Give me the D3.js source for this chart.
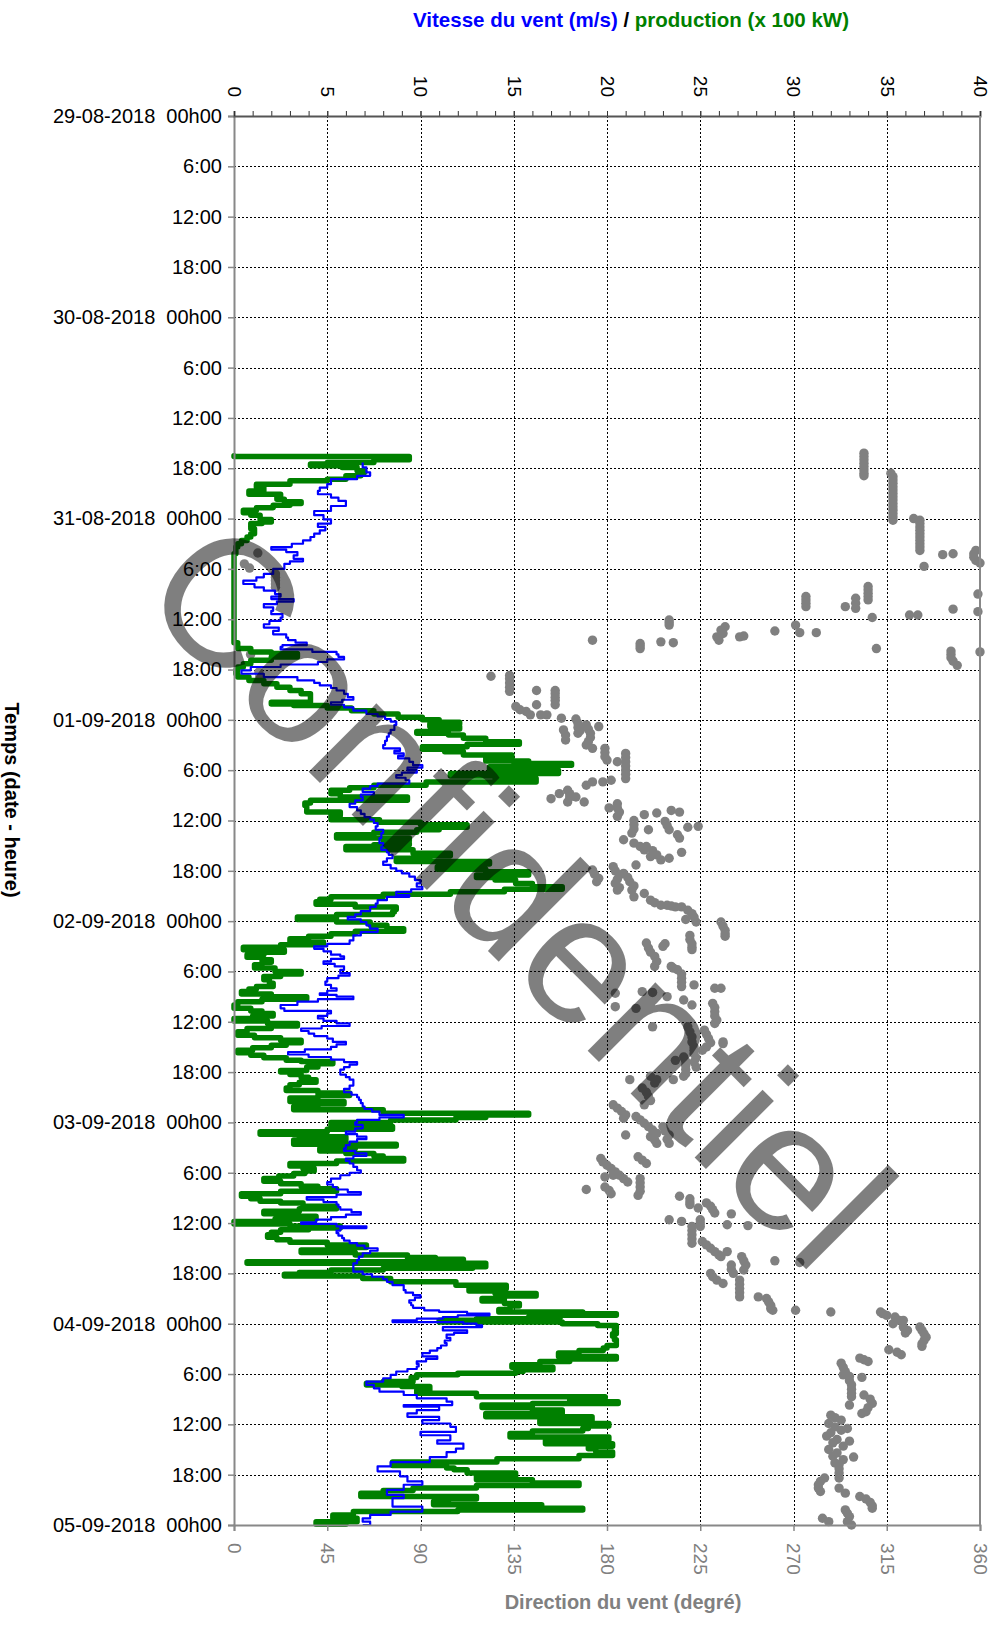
<!DOCTYPE html>
<html>
<head>
<meta charset="utf-8">
<script src="https://cdn.jsdelivr.net/npm/d3@7"></script>
<style>
  body { margin: 0; background: #fff; }
  text { font-family: "Liberation Sans", Arial, sans-serif; }
</style>
</head>
<body>
<div id="chart"></div>
<script>
// hours since 29-08-2018 00h00, value
const speed = [
  [41.3,6.9],[41.9,7.1],[42.5,7.3],[42.9,6.6],[43.3,5.2],[43.9,5.0],[44.3,4.6],[44.7,4.5],[45.1,5.2],[45.5,5.6],
  [45.9,6.0],[46.5,5.2],[47.1,4.3],[47.6,4.8],[48.1,5.2],[48.6,4.5],[49.0,4.9],[49.4,4.6],[49.8,4.3],[50.2,4.1],
  [50.6,3.7],[51.0,3.1],[51.4,2.0],[51.7,2.8],[52.0,3.4],[52.4,3.2],[52.8,3.7],[53.1,3.0],[53.4,2.7],[54.0,2.1],
  [54.6,1.6],[55.0,1.2],[55.4,0.5],[55.8,1.1],[56.2,1.6],[56.6,2.2],[57.0,2.5],[57.3,2.0],[57.6,3.2],[57.9,2.3],
  [58.2,1.6],[58.6,2.1],[59.0,2.0],[59.4,2.6],[59.8,2.5],[60.2,1.9],[60.6,1.6],[61.0,2.4],[61.4,2.1],[61.8,2.8],
  [62.2,2.9],[62.5,3.3],[62.8,3.9],[63.1,2.6],[63.3,2.5],[63.6,4.2],[63.9,5.5],[64.2,5.6],[64.5,5.9],[64.8,5.0],
  [65.1,4.5],[65.4,2.5],[65.7,0.9],[66.1,0.4],[66.5,1.6],[66.9,3.4],[67.3,4.3],[67.6,4.6],[67.9,5.2],[68.2,5.5],
  [68.5,5.9],[68.9,6.1],[69.3,6.4],[69.6,5.8],[69.9,5.2],[70.2,5.9],[70.5,6.4],[70.9,7.1],[71.3,7.7],[71.6,8.1],
  [71.9,8.4],[72.2,8.7],[72.6,8.6],[73.2,8.4],[73.6,8.3],[74.0,8.2],[74.5,8.1],[75.0,8.0],[75.4,8.9],[75.7,8.6],
  [76.0,9.1],[76.3,8.8],[76.6,9.4],[77.0,9.6],[77.4,10.1],[77.7,9.3],[78.0,9.8],[78.3,9.0],[78.6,8.7],[78.9,9.2],
  [79.2,9.4],[79.6,7.7],[79.9,7.3],[80.2,6.9],[80.6,7.5],[80.9,6.8],[81.2,6.9],[81.6,6.5],[82.0,6.2],[82.4,6.6],
  [82.8,6.8],[83.2,7.0],[83.6,7.3],[83.9,7.5],[84.3,7.7],[84.7,7.6],[85.1,8.0],[85.5,7.9],[86.1,7.8],[86.7,8.0],
  [87.1,7.9],[87.5,8.2],[87.8,8.3],[88.1,8.5],[88.5,8.2],[88.9,8.0],[89.3,8.4],[89.7,8.7],[90.0,9.0],[90.3,9.4],
  [90.7,9.7],[91.1,10.0],[91.5,9.8],[91.9,10.1],[92.2,9.5],[92.5,8.7],[92.9,9.4],[93.1,8.2],[93.5,7.7],[93.9,7.6],
  [94.3,7.3],[94.8,6.8],[95.2,6.5],[95.5,6.1],[95.8,6.8],[96.1,7.1],[96.5,7.3],[96.9,7.7],[97.3,6.8],[97.7,6.4],
  [98.0,6.4],[98.3,6.2],[98.7,5.0],[99.0,4.3],[99.3,4.8],[99.6,5.2],[100.0,5.7],[100.2,5.9],[100.5,5.2],[100.8,4.8],
  [101.1,5.4],[101.4,5.9],[101.8,5.7],[102.2,6.2],[102.5,5.6],[102.8,5.0],[103.2,4.9],[103.6,5.2],[104.0,5.5],[104.3,5.0],
  [104.6,4.6],[104.8,5.5],[105.0,6.4],[105.3,4.5],[105.6,3.4],[106.0,2.5],[106.4,2.7],[106.7,5.2],[107.0,5.0],[107.3,4.5],
  [107.6,4.8],[107.9,5.5],[108.2,6.2],[108.5,4.7],[108.8,3.6],[109.1,4.0],[109.4,4.3],[109.7,5.0],[110.0,5.3],[110.4,6.0],
  [110.7,5.5],[111.0,5.2],[111.3,3.8],[111.6,2.9],[111.9,4.0],[112.2,5.2],[112.5,5.9],[112.8,6.6],[113.1,6.2],[113.4,5.9],
  [113.7,5.7],[114.0,5.7],[114.3,6.0],[114.6,6.2],[114.9,6.4],[115.3,6.4],[115.6,6.2],[116.0,5.9],[116.4,6.3],[116.7,6.6],
  [117.0,6.7],[117.3,6.8],[117.7,6.9],[118.1,7.0],[118.4,7.4],[118.7,7.8],[119.1,9.1],[119.4,7.8],[119.7,6.6],[120.0,6.5],
  [120.3,6.9],[120.7,6.5],[121.1,6.0],[121.4,6.6],[121.7,7.1],[122.0,6.6],[122.3,6.2],[122.7,6.0],[123.1,5.9],[123.4,6.5],
  [123.7,7.1],[124.0,6.4],[124.3,6.0],[124.6,6.2],[124.9,6.4],[125.3,6.6],[125.7,6.8],[126.0,6.2],[126.3,5.7],[126.7,5.2],
  [127.1,5.0],[127.4,5.3],[127.7,5.5],[128.0,6.1],[128.3,6.8],[128.6,5.5],[128.9,3.9],[129.2,4.8],[129.5,5.5],[129.8,5.6],
  [130.1,5.7],[130.4,6.3],[130.7,6.8],[131.0,6.0],[131.3,5.2],[131.6,4.4],[131.9,3.6],[132.1,5.5],[132.4,7.1],[132.6,5.7],
  [132.9,5.5],[133.2,5.6],[133.5,5.8],[133.8,5.9],[134.1,6.2],[134.4,6.6],[134.7,7.0],[135.0,7.7],[135.3,7.3],[135.6,6.9],
  [136.0,6.7],[136.4,6.6],[136.8,6.4],[137.2,6.4],[137.8,6.9],[138.1,7.4],[138.4,8.0],[138.7,8.2],[139.0,8.5],[139.4,9.1],
  [139.7,9.1],[140.0,9.2],[140.3,9.6],[140.6,10.0],[140.9,9.7],[141.2,9.4],[141.5,9.5],[141.8,9.6],[142.1,10.2],[142.4,11.0],
  [142.6,12.5],[142.8,13.7],[143.0,12.0],[143.2,11.2],[143.4,9.8],[143.6,8.5],[143.8,12.3],[144.0,13.0],[144.2,13.3],[144.4,11.2],
  [144.8,12.5],[145.1,11.8],[145.3,11.4],[145.7,11.6],[146.0,11.3],[146.3,11.4],[146.6,11.1],[146.9,10.9],[147.2,10.5],[147.5,10.1],
  [147.9,10.9],[148.2,10.3],[148.5,9.8],[148.8,9.9],[149.1,9.8],[149.4,9.3],[149.7,8.7],[150.1,8.4],[150.5,8.0],[150.9,7.1],
  [151.3,7.5],[151.7,7.8],[152.1,9.1],[152.5,9.8],[152.9,11.4],[153.3,11.7],[153.7,9.1],[153.9,11.0],[154.3,9.8],[154.7,9.3],
  [155.1,11.0],[155.5,10.1],[155.9,11.6],[156.3,11.9],[156.9,10.0],[157.3,11.6],[157.9,10.9],[158.3,12.3],[158.9,11.9],[159.3,11.4],
  [159.9,10.5],[160.5,8.4],[161.0,7.7],[161.6,8.9],[162.2,9.3],[162.8,10.1],[163.2,9.1],[163.8,8.2],[164.4,9.1],[164.8,8.5],
  [165.4,8.5],[165.8,10.1],[166.4,8.4],[166.8,7.3],[167.2,6.9],[167.6,7.3],[168.0,6.9]
];

const production = [
  [40.5,0],[40.6,9.4],[40.9,9.4],[41.0,7.5],[41.3,5.0],[41.5,4.1],[41.7,5.8],[41.9,6.6],[42.3,7.0],[42.5,6.8],
  [42.9,6.0],[43.3,5.0],[43.5,3.0],[43.9,1.2],[44.3,1.6],[44.7,0.8],[45.1,2.5],[45.4,2.3],[45.7,2.7],[46.0,3.6],
  [46.2,3.0],[46.4,2.1],[46.7,1.2],[47.0,0.5],[47.3,0.9],[47.6,1.4],[48.1,2.0],[48.4,1.5],[48.6,0.9],[49.2,1.1],
  [49.8,0.9],[50.2,0.7],[50.6,0.4],[51.0,0.2],[51.4,0.1],[52.2,0],[62.5,0],[62.8,0.2],[63.5,0.9],[63.9,2.0],
  [64.1,3.4],[64.5,2.0],[64.9,0.9],[65.3,0.5],[65.7,0.2],[66.1,0.1],[66.5,0.2],[66.9,0.8],[67.3,1.6],[67.7,2.3],
  [68.1,3.0],[68.5,3.6],[68.9,4.1],[69.5,4.1],[69.9,2.0],[70.1,3.2],[70.3,5.0],[70.6,6.3],[70.9,7.5],[71.3,8.8],
  [71.7,10.1],[72.0,11.0],[72.3,12.1],[72.5,10.5],[72.8,12.1],[73.1,11.0],[73.4,9.8],[73.6,11.5],[73.8,12.3],[74.2,13.5],
  [74.6,15.3],[74.9,12.5],[75.2,10.1],[75.5,11.3],[75.8,12.3],[76.2,14.9],[76.6,13.5],[76.9,15.8],[77.2,18.1],[77.4,15.0],
  [77.6,13.7],[78.0,17.4],[78.4,11.6],[78.7,14.0],[79.0,16.2],[79.4,10.3],[79.8,7.5],[80.1,6.2],[80.4,5.2],[80.8,5.7],
  [81.2,9.3],[81.6,4.1],[81.9,3.8],[82.2,3.9],[82.6,3.9],[83.0,5.7],[83.4,5.2],[83.9,7.8],[84.2,10.0],[84.5,12.5],
  [84.8,11.0],[85.1,9.8],[85.4,7.5],[85.7,5.5],[86.1,9.4],[86.4,8.0],[86.7,9.4],[86.9,7.5],[87.1,6.0],[87.5,9.6],
  [87.9,11.6],[88.2,10.5],[88.5,8.7],[88.9,13.7],[89.2,12.0],[89.5,10.9],[89.8,13.5],[90.1,15.8],[90.5,13.0],[90.8,14.0],
  [91.1,15.1],[91.5,16.0],[91.9,17.6],[92.2,14.5],[92.5,11.6],[92.8,8.0],[93.1,5.2],[93.4,4.6],[93.7,4.4],[94.0,6.5],
  [94.3,8.7],[94.6,8.6],[94.9,8.5],[95.2,5.5],[95.5,3.4],[95.8,5.5],[96.1,7.3],[96.5,8.2],[96.9,9.1],[97.2,6.5],
  [97.5,5.2],[97.8,4.0],[98.1,3.0],[98.5,4.8],[98.8,2.5],[99.1,0.5],[99.4,2.7],[99.7,1.6],[100.0,0.7],[100.3,1.5],
  [100.6,2.0],[100.9,1.5],[101.2,1.1],[101.6,2.2],[102.0,3.6],[102.3,2.5],[102.6,1.6],[103.0,1.9],[103.4,2.1],[103.8,1.2],
  [104.1,0.8],[104.4,0.4],[104.7,2.0],[105.0,3.9],[105.3,1.5],[105.6,0.2],[106.0,0.0],[106.4,0.9],[106.7,1.5],[107.0,2.1],
  [107.3,1.0],[107.6,0.0],[107.9,1.8],[108.2,3.4],[108.5,2.0],[108.8,0.7],[109.2,0.2],[109.6,1.1],[109.9,2.5],[110.2,3.6],
  [110.5,2.8],[110.8,2.0],[111.1,1.0],[111.4,0.2],[111.7,0.9],[112.0,1.6],[112.3,2.8],[112.6,3.6],[112.75,5.3],[113.0,4.5],
  [113.4,3.9],[113.8,2.5],[114.0,3.0],[114.3,3.6],[114.6,4.0],[114.9,4.4],[115.2,3.5],[115.5,3.0],[115.9,2.8],[116.2,4.5],
  [116.5,6.2],[116.8,4.5],[117.1,3.0],[117.5,5.9],[117.8,4.5],[118.1,3.2],[118.5,8.0],[118.9,15.8],[119.1,13.5],[119.4,11.9],
  [119.7,8.4],[120.0,5.2],[120.5,8.5],[120.8,5.0],[121.1,1.4],[121.4,3.5],[121.7,6.0],[122.1,3.2],[122.6,8.7],[122.8,6.5],
  [123.1,4.6],[123.4,6.0],[123.7,7.5],[124.0,8.0],[124.3,9.1],[124.6,5.5],[124.9,3.0],[125.2,3.7],[125.5,4.3],[125.8,3.8],
  [126.1,3.2],[126.4,2.4],[126.7,1.6],[127.0,2.5],[127.3,3.6],[127.6,4.5],[127.9,5.5],[128.2,2.5],[128.5,0.4],[128.8,0.9],
  [129.1,1.4],[129.4,2.5],[129.6,3.7],[130.0,5.5],[130.3,3.5],[130.6,1.6],[130.9,2.5],[131.2,4.4],[131.5,2.2],[131.8,0.0],
  [132.1,3.0],[132.35,5.7],[132.6,4.0],[132.8,2.5],[133.1,2.0],[133.4,1.8],[133.7,2.3],[134.0,3.0],[134.3,5.0],[134.6,7.1],
  [134.9,5.5],[135.2,3.6],[135.5,6.5],[135.8,9.3],[136.1,10.8],[136.3,12.3],[136.6,0.7],[136.8,13.5],[137.2,12.8],[137.4,8.0],
  [137.6,5.2],[137.9,3.5],[138.1,2.7],[138.3,6.9],[138.6,8.4],[139.0,11.9],[139.4,14.6],[139.8,12.6],[140.1,14.0],[140.4,16.2],
  [140.7,14.5],[141.0,13.3],[141.3,14.5],[141.6,15.3],[141.9,14.8],[142.3,14.2],[142.6,18.7],[142.8,20.5],[143.0,17.5],[143.2,15.8],
  [143.4,13.0],[143.6,11.0],[143.8,17.6],[144.0,19.5],[144.2,20.5],[144.5,20.4],[144.8,20.5],[145.2,20.3],[145.5,20.4],[145.9,20.5],
  [146.3,20.5],[146.6,20.0],[146.9,19.8],[147.2,18.5],[147.5,17.4],[147.9,20.5],[148.2,18.0],[148.5,16.4],[148.9,14.9],[149.2,17.1],
  [149.5,15.5],[149.7,15.1],[149.9,12.0],[150.1,9.8],[150.4,9.5],[150.7,9.6],[150.9,8.0],[151.1,7.1],[151.3,9.0],[151.5,10.5],
  [151.9,9.8],[152.3,13.0],[152.7,19.9],[153.0,18.0],[153.3,20.6],[153.5,16.0],[153.7,13.3],[154.0,16.0],[154.3,17.6],[154.7,13.5],
  [155.1,19.2],[155.5,16.4],[155.9,20.1],[156.2,19.0],[156.5,18.7],[156.8,16.0],[157.1,14.8],[157.5,20.1],[157.9,16.7],[158.3,20.3],
  [158.6,19.0],[158.9,19.4],[159.3,20.3],[159.7,18.5],[160.1,14.1],[160.5,8.5],[160.9,11.4],[161.2,11.8],[161.4,12.5],[161.8,15.1],
  [162.2,13.0],[162.6,16.0],[163.0,18.5],[163.3,13.0],[163.6,9.6],[163.9,8.0],[164.2,6.8],[164.6,13.0],[164.9,11.5],[165.2,10.7],
  [165.6,16.5],[166.0,18.7],[166.2,12.0],[166.4,6.4],[166.8,5.3],[167.2,6.6],[167.6,4.4],[167.9,6.0]
];

const direction = [
  [40.2,304],[40.6,304],[41.0,304],[41.4,304],[41.8,304],[42.2,304],[42.6,304],[42.9,304],
  [42.6,317],[43.0,318],[43.4,318],[43.8,318],[44.2,318],[44.6,318],[45.0,318],[45.4,318],[45.8,318],[46.2,318],
  [46.6,318],[47.0,318],[47.4,318],[47.8,318],[48.2,318],
  [48.0,328],[48.2,331],[48.6,331],[49.0,331],[49.4,331],[49.8,331],[50.2,331],[50.6,331],[51.0,331],[51.4,331],[51.8,331],
  [52.3,342],[52.2,347],[53.7,333],[51.8,358],[52.2,357],[52.6,357],[53.0,358],[53.3,360],
  [52.1,11.5],[53.4,5],[53.9,7.5],[54.6,20],[55.0,20],[55.4,20],[55.8,20],[56.2,20],
  [57.0,359],[59.1,359],[63.9,360],[63.8,346],[64.2,346],[64.6,346],[65.0,347],[65.5,349],[58.8,347],
  [59.5,326],[59.5,330],[63.5,310],[59.8,308],
  [56.1,306],[56.5,306],[56.9,306],[57.3,306],[57.7,306],[57.5,300],[58.1,300],[58.7,300],[58.5,295],
  [57.3,276],[57.7,276],[58.1,276],[58.5,276],[60.7,271],[61.6,273],[61.6,281],[61.4,261],
  [62.1,244],[62.0,246],[60.9,237],[61.3,235],[61.7,236],[62.1,233],[62.5,234],
  [60.1,210],[60.4,210],[60.7,210],[62.7,206],[62.8,212],[62.9,196],[63.2,196],[63.5,196],[62.5,173],
  [64.2,8],[66.3,12],[66.8,12.5],
  [66.8,124],[66.7,133],[67.1,133],[67.6,133],[68.1,133],[68.6,133],[68.5,146],[70.2,146],
  [68.5,155],[68.9,155],[69.3,155],[69.7,155],[70.2,155],[70.4,136],[70.8,138],[71.0,141],[71.4,143],
  [71.4,148],[71.4,151],[71.8,158],[71.9,165],[72.4,166],[72.9,166],[73.3,167],[73.6,166],
  [72.6,170],[73.1,171],[73.6,172],[74.1,172],[74.6,171],[75.0,170],[75.4,173],[72.8,176],
  [73.2,159],[73.8,160],[74.4,160],[75.4,179],[75.9,179],[76.4,179],[76.8,180],
  [76.0,189],[76.5,189],[77.0,189],[77.5,189],[78.0,189],[78.5,189],[79.0,189],[77.0,185],
  [79.2,182],[79.4,178],[79.4,173],[79.8,170],[81.8,169],
  [81.4,153],[80.8,157],[80.4,161],[80.8,162],[81.2,162],[81.8,161],[81.2,165],
  [82.5,181],[82.0,185],[82.5,185],[83.0,186],[83.5,185],
  [84.0,193],[84.5,193],[85.0,193],[85.5,192],[83.3,198],[85.1,200],
  [83.1,204],[84.1,208],[84.6,209],[85.1,210],[82.8,211],[83.0,215],[85.7,214],[86.1,215],[84.8,219],[84.7,224],
  [86.3,188],[86.7,193],[87.1,196],[87.5,198],[87.1,199],[87.6,202],[88.1,204],[88.7,206],[88.5,210],[87.8,216],[88.3,201],
  [89.9,173],[90.4,174],[90.9,176],[91.3,175],
  [89.5,183],[90.0,184],[90.5,186],[91.0,185],[91.5,184],[92.0,186],[92.3,185],
  [90.3,188],[90.8,190],[91.3,191],[91.8,193],[92.3,192],[93.1,193],[89.3,194],
  [92.7,198],[93.5,201],[93.8,203],[94.1,206],[94.1,209],[94.2,211],[94.3,213],
  [94.3,216],[94.7,219],[95.1,221],[95.5,222],[96.1,223],[95.8,218],
  [96.1,235],[96.6,236],[97.1,237],[97.5,237],[97.8,237],
  [97.7,220],[98.2,220],[98.7,221],[99.1,221],[99.4,221],
  [98.6,199],[99.2,200],[99.7,201],[100.2,203],[100.8,204],[101.4,203],[99.0,207],[98.7,208],
  [101.4,211],[101.8,214],[102.3,216],[102.8,216],[103.3,216],[103.8,216],[101.6,212],
  [103.6,222],[104.0,232],[104.0,235],[105.8,231],[106.3,232],[106.8,232],[107.3,232],[107.8,233],[108.2,232],
  [104.6,184],[106.2,184],[104.4,197],[104.5,202],[105.0,209],[105.4,217],[106.0,221],[106.4,194],[108.6,202],
  [108.6,219],[109.2,220],[109.8,221],[110.4,221],[111.0,222],[111.4,222],
  [109.0,227],[109.5,228],[110.0,229],[110.5,230],[111.0,228],[111.4,226],[110.4,236],
  [110.6,236],[111.8,222],[112.3,223],[112.8,222],[113.4,223],
  [112.2,217],[112.7,218],[113.2,218],[113.7,218],[114.2,218],[114.5,217],
  [112.6,213],[114.5,201],[114.9,204],[115.3,203],[114.9,191],[114.9,212],
  [115.9,197],[116.4,199],[116.9,200],[117.4,201],[117.9,198],
  [117.9,183],[118.3,185],[118.7,187],[119.1,189],[119.5,188],
  [119.3,194],[119.7,196],[120.1,198],[120.5,200],[120.9,202],[121.3,204],[121.7,201],[122.1,203],[122.5,204],
  [121.5,189],[120.5,207],[121.0,208],[121.5,210],[122.0,209],[122.5,210],
  [124.1,195],[124.5,197],[124.9,199],
  [124.3,177],[124.7,178],[125.1,180],[125.5,182],[125.9,184],[126.3,183],[126.5,179],
  [126.3,186],[126.7,188],[127.1,190],[126.7,196],[127.2,196],[127.7,196],[128.2,196],[128.7,195],
  [128.0,170],[127.7,179],[128.1,181],[128.5,182],
  [128.8,215],[129.1,220],[129.5,220],[129.8,220],[130.2,224],[129.6,228],[130.0,230],[130.4,231],[130.8,232],
  [130.9,240],[132.2,238],[132.3,248],
  [131.6,210],[131.8,216],[131.6,225],[132.0,225],[132.4,225],
  [132.4,221],[132.9,221],[133.4,221],[133.9,221],[134.4,221],
  [134.2,226],[134.6,228],[135.0,230],[135.4,232],[135.8,234],[136.0,235],[135.4,238],
  [136.0,245],[136.5,246],[137.0,247],[137.6,246],[137.0,240],[137.5,240],[138.0,241],
  [138.0,230],[138.4,231],[138.8,233],[139.2,236],
  [138.8,244],[139.3,244],[139.8,244],[140.3,244],[140.8,244],
  [140.8,253],[141.0,257],[141.4,258],[141.8,259],[142.2,259],[142.4,260],
  [136.5,261],[136.7,273],[142.4,271],[142.6,288],
  [142.6,312],[142.8,313],[143.0,315],
  [143.2,319],[143.6,321],[144.0,318],[144.4,323],[144.8,325],[145.1,324],[143.6,323],
  [144.4,331],[144.8,332],[145.2,333],[145.6,334],[146.0,333],[146.4,332],[146.7,332],
  [147.1,316],[147.4,320],[147.7,322],[148.1,302],[148.3,304],[148.5,306],
  [148.7,293],[149.2,294],[149.7,295],[150.1,294],[150.4,303],
  [150.3,297],[150.8,297],[151.3,298],[151.8,298],[152.3,298],[152.7,298],
  [152.5,304],[153.0,307],[153.5,308],[154.0,306],[154.5,305],[154.7,303],[153.7,297],
  [154.9,288],[155.2,290],[155.5,293],
  [155.9,287],[156.3,290],[156.7,293],[157.0,288],[157.4,286],[157.8,291],[158.2,289],[158.6,294],[159.0,287],
  [159.4,291],[159.8,289],[160.2,294],[160.6,290],[156.5,296],[158.0,297],[159.9,299],
  [160.8,292],[161.3,292],[161.8,292],[162.4,292],
  [162.4,285],[162.8,283],[163.2,282],[163.6,282],[164.0,283],[163.6,292],[164.2,295],
  [164.6,302],[164.9,305],[165.3,307],[165.7,308],[166.0,308],
  [166.2,295],[166.6,296],[167.0,297],[167.6,296],[167.2,284],[167.6,287],[168.0,298]
];

const speedTicks = [0, 5, 10, 15, 20, 25, 30, 35, 40];
const dirTicks = [0, 45, 90, 135, 180, 225, 270, 315, 360];
const timeTicks = [0, 6, 12, 18, 24, 30, 36, 42, 48, 54, 60, 66, 72, 78, 84, 90, 96,
                   102, 108, 114, 120, 126, 132, 138, 144, 150, 156, 162, 168];
const startDate = new Date(2018, 7, 29, 0, 0);

const width = 997, height = 1628;
const plotLeft = 234, plotRight = 980, plotTop = 116, plotBottom = 1525;

const toDate = h => new Date(startDate.getTime() + h * 3600000);

const svg = d3.select('#chart').append('svg')
  .attr('width', width)
  .attr('height', height)
  .style('display', 'block');

svg.append('rect').attr('width', width).attr('height', height).attr('fill', '#fff');

const xSpeed = d3.scaleLinear().domain([0, 40]).range([plotLeft, plotRight]);
const xDir = d3.scaleLinear().domain([0, 360]).range([plotLeft, plotRight]);
const y = d3.scaleTime().domain([toDate(0), toDate(168)]).range([plotTop, plotBottom]);

// grid (dotted, snapped to pixel centres)
const snap = v => Math.round(v) + 0.5;
const grid = svg.append('g')
  .attr('stroke', '#000')
  .attr('stroke-width', 1)
  .attr('stroke-dasharray', '2,2');
grid.selectAll('.gx').data(speedTicks.slice(1, -1)).join('line')
  .attr('x1', d => snap(xSpeed(d))).attr('x2', d => snap(xSpeed(d)))
  .attr('y1', plotTop).attr('y2', plotBottom);
grid.selectAll('.gy').data(timeTicks.slice(1, -1)).join('line')
  .attr('x1', plotLeft).attr('x2', plotRight)
  .attr('y1', d => snap(y(toDate(d)))).attr('y2', d => snap(y(toDate(d))));

// direction dots
svg.append('g').selectAll('circle').data(direction).join('circle')
  .attr('cx', d => xDir(d[1]))
  .attr('cy', d => y(toDate(d[0])))
  .attr('r', 4.7)
  .attr('fill', '#808080');

// production and speed lines: each value is held until the next reading
const line = d3.line()
  .curve(d3.curveStepBefore)
  .x(d => xSpeed(d[1]))
  .y(d => y(toDate(d[0])));

svg.append('path').datum(production)
  .attr('d', line)
  .attr('fill', 'none')
  .attr('stroke', '#008000')
  .attr('stroke-width', 5.5)
  .attr('stroke-linejoin', 'round')
  .attr('stroke-linecap', 'round');

svg.append('path').datum(speed)
  .attr('d', line)
  .attr('fill', 'none')
  .attr('stroke', '#0000ff')
  .attr('stroke-width', 2.2)
  .attr('stroke-linejoin', 'round');

// axes
const fmtDay = d3.timeFormat('%d-%m-%Y');
const timeFmt = d => d.getHours() === 0 ? fmtDay(d) + '\u00a0 00h00' : d.getHours() + ':00';

const yAxis = svg.append('g')
  .attr('transform', `translate(${plotLeft},0)`)
  .call(d3.axisLeft(y).tickValues(timeTicks.map(toDate)).tickFormat(timeFmt).tickSize(6).tickPadding(6));
yAxis.select('.domain').attr('stroke', '#888').attr('stroke-width', 2);
yAxis.selectAll('.tick line').attr('stroke', '#888').attr('stroke-width', 1.5);
yAxis.selectAll('.tick text').attr('font-size', 20).attr('fill', '#000');

svg.append('g')
  .attr('transform', `translate(0,${plotTop})`)
  .call(d3.axisTop(xSpeed).ticks(40).tickSize(5).tickFormat(''))
  .call(g => g.select('.domain').remove())
  .selectAll('.tick line').attr('stroke', '#333');

const xTop = svg.append('g')
  .attr('transform', `translate(0,${plotTop})`)
  .call(d3.axisTop(xSpeed).tickValues(speedTicks).tickSize(5));
xTop.select('.domain').attr('stroke', '#555').attr('stroke-width', 2);
xTop.selectAll('.tick line').attr('stroke', '#333');
xTop.selectAll('.tick text')
  .attr('x', 0).attr('y', 0).attr('dy', '0.35em')
  .attr('text-anchor', 'end')
  .attr('transform', 'translate(0,-19) rotate(90)')
  .attr('font-size', 19)
  .attr('fill', '#000');

const xBottom = svg.append('g')
  .attr('transform', `translate(0,${plotBottom})`)
  .call(d3.axisBottom(xDir).tickValues(dirTicks).tickSize(6));
xBottom.select('.domain').attr('stroke', '#888').attr('stroke-width', 2);
xBottom.selectAll('.tick line').attr('stroke', '#888').attr('stroke-width', 1.5);
xBottom.selectAll('.tick text')
  .attr('x', 0).attr('y', 0).attr('dy', '0.35em')
  .attr('text-anchor', 'start')
  .attr('transform', 'translate(0,18) rotate(90)')
  .attr('font-size', 19)
  .attr('fill', '#808080');

svg.append('line')
  .attr('x1', plotRight).attr('x2', plotRight).attr('y1', plotTop).attr('y2', plotBottom)
  .attr('stroke', '#888').attr('stroke-width', 2);

// titles
const title = svg.append('text')
  .attr('x', 631).attr('y', 27)
  .attr('text-anchor', 'middle')
  .attr('font-size', 20.5)
  .attr('font-weight', 'bold');
title.append('tspan').attr('fill', '#0000ff').text('Vitesse du vent (m/s)');
title.append('tspan').attr('fill', '#000').text(' / ');
title.append('tspan').attr('fill', '#008000').text('production (x 100 kW)');

svg.append('text')
  .attr('x', 623).attr('y', 1609)
  .attr('text-anchor', 'middle')
  .attr('font-size', 20)
  .attr('font-weight', 'bold')
  .attr('fill', '#808080')
  .text('Direction du vent (degré)');

svg.append('text')
  .attr('transform', 'translate(12,800) rotate(90)')
  .attr('text-anchor', 'middle')
  .attr('dy', '0.35em')
  .attr('font-size', 20)
  .attr('font-weight', 'bold')
  .attr('fill', '#000')
  .text('Temps (date - heure)');

// watermark
svg.append('text')
  .attr('transform', 'translate(475,938) rotate(45)')
  .attr('text-anchor', 'middle')
  .attr('font-size', 182)
  .attr('fill', '#000')
  .attr('fill-opacity', 0.5)
  .text('Confidentiel');
</script>
</body>
</html>
